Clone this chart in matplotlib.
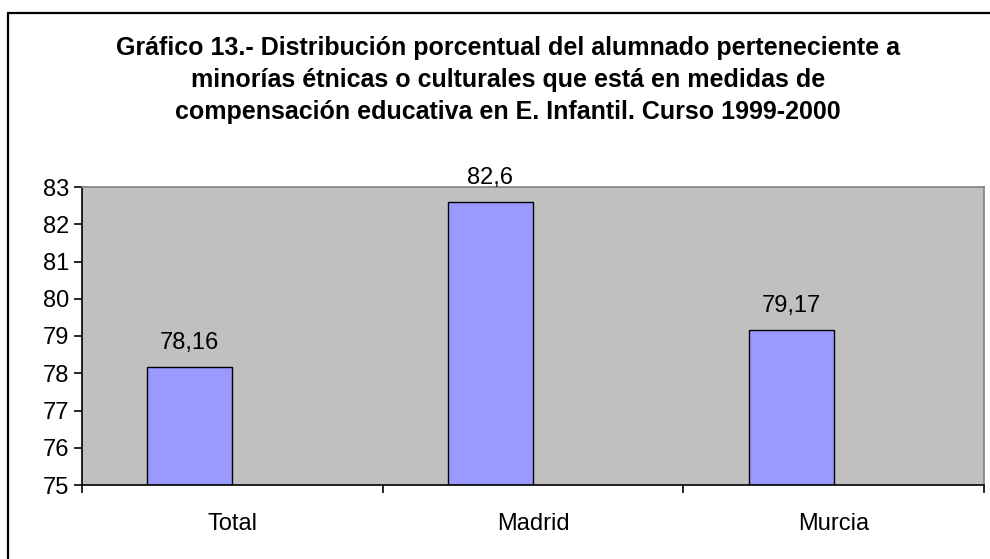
import matplotlib
matplotlib.use("Agg")
from matplotlib import pyplot as plt
from matplotlib.patches import Rectangle

categories = ["Total", "Madrid", "Murcia"]
values = [78.16, 82.6, 79.17]
value_labels = ["78,16", "82,6", "79,17"]
title = ("Gráfico 13.- Distribución porcentual del alumnado perteneciente a\n"
         "minorías étnicas o culturales que está en medidas de\n"
         "compensación educativa en E. Infantil. Curso 1999-2000")

plt.rcParams['font.family'] = ['Liberation Sans', 'DejaVu Sans']

fig = plt.figure(figsize=(9.9, 5.59), dpi=100)
# outer frame of the chart object
fig.patches.append(Rectangle((8 / 990, -0.1), 1.2, 1 - 13 / 559 + 0.1,
                             transform=fig.transFigure, fill=False,
                             edgecolor="black", linewidth=1.6))

ax = fig.add_axes([82 / 990, 1 - 485 / 559, 902 / 990, 298 / 559])
ax.set_facecolor("#C0C0C0")

xs = list(range(len(categories)))
ax.bar(xs, [v - 75 for v in values], bottom=75, width=-0.283, align="edge",
       color="#9999FF", edgecolor="black", linewidth=1.0)
for x, v, lab in zip(xs, values, value_labels):
    ax.text(x - 0.283 / 2, v + 0.48, lab, ha="center", va="baseline", fontsize=17)

ax.set_xlim(-0.5, 2.5)
ax.set_ylim(75, 83)
ax.set_yticks(range(75, 84))
ax.tick_params(axis="y", labelsize=17, length=6, width=1.2, pad=3, direction="out")
ax.set_xticks([-0.5, 0.5, 1.5, 2.5])
ax.set_xticklabels([])
ax.tick_params(axis="x", which="major", length=6, width=1.2, direction="out")
ax.set_xticks(xs, categories, minor=True)
ax.tick_params(axis="x", which="minor", length=0, labelsize=17, pad=20)

for side in ["left", "bottom"]:
    ax.spines[side].set_color("black")
    ax.spines[side].set_linewidth(1.2)
for side in ["top", "right"]:
    ax.spines[side].set_color("#808080")
    ax.spines[side].set_linewidth(1.2)

fig.text(508 / 990, 1 - 80 / 559, title, ha="center", va="center",
         fontsize=18, fontweight="bold", linespacing=1.4)

fig.savefig("out.png", dpi=100)
